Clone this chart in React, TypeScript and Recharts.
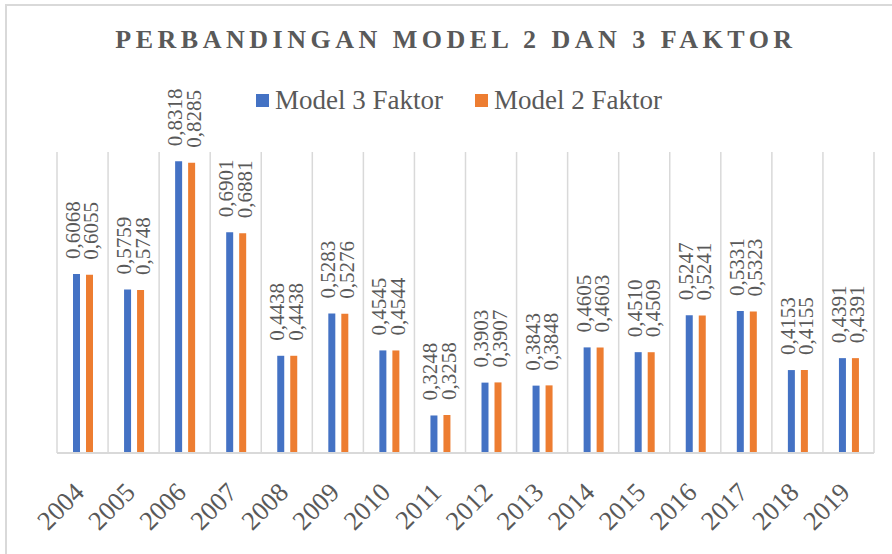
import React from 'react';
import { BarChart, Bar, XAxis, YAxis, CartesianGrid, Legend, LabelList } from 'recharts';

const years = ['2004', '2005', '2006', '2007', '2008', '2009', '2010', '2011', '2012', '2013', '2014', '2015', '2016', '2017', '2018', '2019'];
const model3 = [0.6068, 0.5759, 0.8318, 0.6901, 0.4438, 0.5283, 0.4545, 0.3248, 0.3903, 0.3843, 0.4605, 0.451, 0.5247, 0.5331, 0.4153, 0.4391];
const model2 = [0.6055, 0.5748, 0.8285, 0.6881, 0.4438, 0.5276, 0.4544, 0.3258, 0.3907, 0.3848, 0.4603, 0.4509, 0.5241, 0.5323, 0.4155, 0.4391];
const seriesNames = ['Model 3 Faktor', 'Model 2 Faktor'];
const title = 'PERBANDINGAN MODEL 2 DAN 3 FAKTOR';

const BLUE = '#4472C4';
const ORANGE = '#ED7D31';
const TEXT = '#595959';
const GRID = '#D9D9D9';
const SERIF = '"Liberation Serif", "Times New Roman", serif';

const data = years.map((year, i) => ({ year, m3: model3[i], m2: model2[i] }));

const fmt = (v: number) => v.toFixed(4).replace('.', ',');

const valueLabel = (dx: number) => (props: any) => {
  const { x, y, width, value } = props;
  const cx = Number(x) + Number(width) / 2 + dx;
  const cy = Number(y) - 15;
  return (
    <text
      x={cx}
      y={cy}
      transform={`rotate(-90 ${cx} ${cy})`}
      textAnchor="start"
      dominantBaseline="central"
      fill={TEXT}
      fontSize={21}
      fontFamily={SERIF}
    >
      {fmt(Number(value))}
    </text>
  );
};

const YearTick = (props: any) => {
  const { x, y, payload } = props;
  const ax = x + 3;
  const ay = y + 33;
  return (
    <text
      x={ax}
      y={ay}
      transform={`rotate(-45 ${ax} ${ay})`}
      textAnchor="end"
      fill={TEXT}
      fontSize={26.5}
      fontFamily={SERIF}
    >
      {payload.value}
    </text>
  );
};

const LegendBox = () => (
  <div style={{ display: 'flex', alignItems: 'center', fontFamily: SERIF, fontSize: 27, color: TEXT, lineHeight: '30px' }}>
    {seriesNames.map((name, i) => (
      <div key={name} style={{ display: 'flex', alignItems: 'center', marginRight: i === 0 ? 32 : 0 }}>
        <span style={{ width: 13, height: 13, background: i === 0 ? BLUE : ORANGE, display: 'inline-block', marginRight: 6 }} />
        <span>{name}</span>
      </div>
    ))}
  </div>
);

export default function App() {
  return (
    <div style={{ position: 'absolute', left: 0, top: 0, width: 892, height: 554, background: '#fff', overflow: 'hidden' }}>
      <div
        style={{
          position: 'absolute',
          left: 5,
          top: 4,
          width: 900,
          height: 560,
          borderTop: `2px solid ${GRID}`,
          borderLeft: `2px solid ${GRID}`,
          boxSizing: 'border-box',
        }}
      />
      <div
        style={{
          position: 'absolute',
          left: 0,
          top: 25,
          width: 912,
          textAlign: 'center',
          fontFamily: SERIF,
          fontWeight: 'bold',
          fontSize: 26,
          letterSpacing: 4.5,
          color: TEXT,
          whiteSpace: 'nowrap',
        }}
      >
        {title}
      </div>
      <BarChart
        width={892}
        height={554}
        data={data}
        margin={{ top: 152, right: 18, left: 57, bottom: 41 }}
        barSize={7}
        barGap={6}
      >
        <CartesianGrid
          horizontal={false}
          stroke={GRID}
          strokeWidth={1.5}
          verticalCoordinatesGenerator={({ offset }: any) =>
            Array.from({ length: years.length + 1 }, (_, i) => offset.left + (i * offset.width) / years.length)
          }
        />
        <XAxis
          dataKey="year"
          height={60}
          interval={0}
          tickLine={false}
          axisLine={{ stroke: GRID, strokeWidth: 2 }}
          tick={<YearTick />}
        />
        <YAxis hide domain={[0.25, 0.85]} />
        <Legend
          verticalAlign="middle"
          content={<LegendBox />}
          wrapperStyle={{ top: 85, left: 256, width: 'auto' }}
        />
        <Bar dataKey="m3" name={seriesNames[0]} fill={BLUE} isAnimationActive={false}>
          <LabelList dataKey="m3" content={valueLabel(-3.5)} />
        </Bar>
        <Bar dataKey="m2" name={seriesNames[1]} fill={ORANGE} isAnimationActive={false}>
          <LabelList dataKey="m2" content={valueLabel(2)} />
        </Bar>
      </BarChart>
    </div>
  );
}
